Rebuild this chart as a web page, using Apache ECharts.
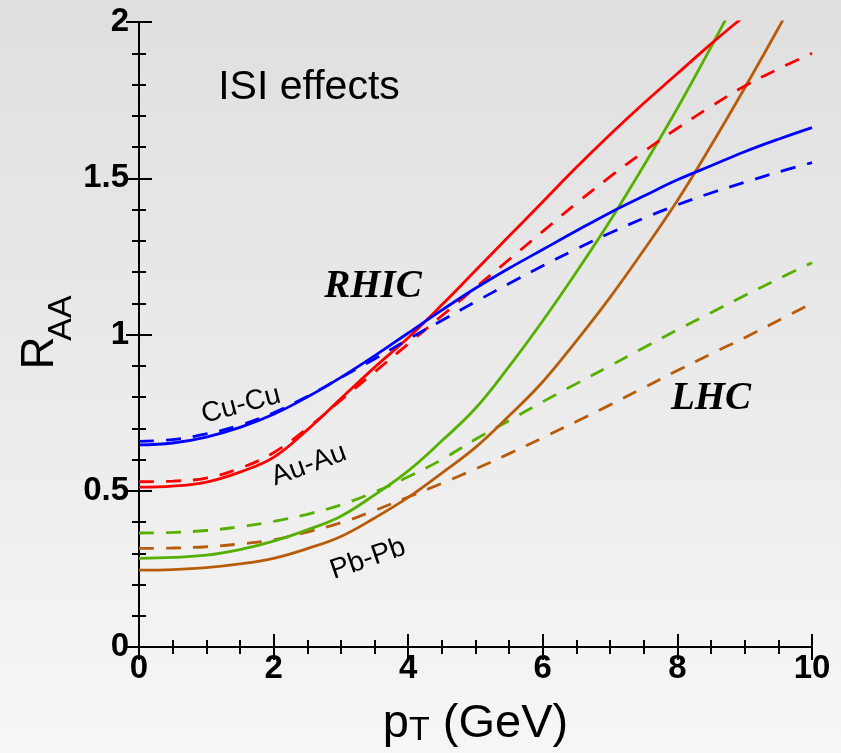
<!DOCTYPE html>
<html>
<head>
<meta charset="utf-8">
<title>ISI effects – R_AA vs pT</title>
<script src="https://cdn.jsdelivr.net/npm/echarts@6/dist/echarts.min.js"></script>
<style>
  html, body { margin: 0; padding: 0; }
  #chart { width: 841px; height: 753px; }
</style>
</head>
<body>
<div id="chart"></div>
<script>
// Transverse momentum grid (GeV)
const pT = [0, 0.5, 1, 1.5, 2, 2.5, 3, 3.5, 4, 4.5, 5, 5.5, 6, 6.5, 7, 7.5, 8, 8.5, 9, 9.5, 10];

// RHIC, Cu-Cu
const cuCuSolid  = [0.647, 0.653, 0.672, 0.703, 0.745, 0.800, 0.863, 0.932, 1.005, 1.078, 1.148,
                    1.212, 1.272, 1.332, 1.390, 1.443, 1.495, 1.540, 1.585, 1.625, 1.662];
const cuCuDashed = [0.658, 0.664, 0.682, 0.710, 0.750, 0.802, 0.862, 0.922, 0.985, 1.045, 1.105,
                    1.163, 1.220, 1.274, 1.325, 1.372, 1.415, 1.453, 1.487, 1.520, 1.550];
// RHIC, Au-Au
const auAuSolid  = [0.512, 0.515, 0.528, 0.560, 0.607, 0.695, 0.795, 0.895, 0.990, 1.095, 1.205,
                    1.315, 1.425, 1.535, 1.640, 1.740, 1.835, 1.930, 2.020, 2.110, 2.200];
const auAuDashed = [0.529, 0.531, 0.541, 0.572, 0.622, 0.700, 0.790, 0.880, 0.970, 1.060, 1.150,
                    1.240, 1.330, 1.420, 1.505, 1.585, 1.660, 1.730, 1.795, 1.850, 1.900];
// LHC, Pb-Pb (green and brown pairs)
const pbPbSolidG  = [0.284, 0.287, 0.294, 0.312, 0.339, 0.375, 0.419, 0.487, 0.564, 0.660, 0.764,
                     0.898, 1.044, 1.200, 1.364, 1.540, 1.724, 1.920, 2.124, 2.330, 2.540];
const pbPbDashedG = [0.365, 0.367, 0.373, 0.385, 0.402, 0.425, 0.455, 0.496, 0.545, 0.600, 0.665,
                     0.725, 0.785, 0.843, 0.900, 0.958, 1.015, 1.070, 1.125, 1.178, 1.230];
const pbPbSolidB  = [0.246, 0.248, 0.254, 0.266, 0.284, 0.315, 0.354, 0.413, 0.479, 0.557, 0.639,
                     0.740, 0.849, 0.980, 1.119, 1.270, 1.429, 1.605, 1.789, 1.980, 2.179];
const pbPbDashedB = [0.316, 0.317, 0.321, 0.330, 0.343, 0.368, 0.398, 0.437, 0.480, 0.524, 0.570,
                     0.619, 0.670, 0.722, 0.775, 0.830, 0.885, 0.938, 0.990, 1.045, 1.100];

const xTicks = [0, 2, 4, 6, 8, 10];
const yTicks = [0, 0.5, 1, 1.5, 2];

const BLUE = '#0000ff', RED = '#ff0000', GREEN = '#55b000', BROWN = '#b85c0a';
const DASH = [15, 12];

function pairs(ys) { return pT.map((x, i) => [x, ys[i]]); }

function curve(name, ys, color, dashed) {
  return {
    name: name,
    type: 'line',
    data: pairs(ys),
    smooth: 0.4,
    showSymbol: false,
    symbol: 'none',
    clip: true,
    lineStyle: { color: color, width: 2.8, type: dashed ? DASH : 'solid' },
    silent: true
  };
}

const SANS = 'Liberation Sans, Arial, sans-serif';
const tickFont = { fontFamily: SANS, fontWeight: 'bold', fontSize: 33, color: '#000' };
const axisLine = { show: true, lineStyle: { color: '#000', width: 2 } };
const majorTick = { show: true, inside: true, length: 13, lineStyle: { color: '#000', width: 2 } };

function label(text, x, y, font, deg) {
  return {
    type: 'text', x: x, y: y, rotation: (deg || 0) * Math.PI / 180, silent: true,
    style: { text: text, font: font, fill: '#000', textAlign: 'center', textVerticalAlign: 'middle' }
  };
}

const chart = echarts.init(document.getElementById('chart'), null, { renderer: 'canvas' });

chart.setOption({
  animation: false,
  backgroundColor: {
    type: 'linear', x: 0, y: 0, x2: 0, y2: 1,
    colorStops: [{ offset: 0, color: '#dfdfdf' }, { offset: 1, color: '#f6f6f6' }]
  },
  grid: { left: 139, right: 29, top: 22, bottom: 103, containLabel: false },
  xAxis: [
    {
      type: 'value', min: 0, max: 10, interval: 2, position: 'bottom',
      axisLine: axisLine,
      axisTick: majorTick,
      minorTick: { show: true, splitNumber: 4, length: 7, lineStyle: { color: '#000', width: 2 } },
      splitLine: { show: false },
      axisLabel: Object.assign({ margin: 5, formatter: v => xTicks.includes(v) ? String(v) : '' }, tickFont),
      name: '{p|p}{t|T}{g| (GeV)}',
      nameLocation: 'middle',
      nameGap: 45,
      nameTextStyle: {
        rich: {
          p: { fontFamily: SANS, fontSize: 47, lineHeight: 47, verticalAlign: 'top', color: '#000' },
          t: { fontFamily: SANS, fontSize: 34, lineHeight: 34, verticalAlign: 'bottom', padding: [24, 0, 0, 0], color: '#000' },
          g: { fontFamily: SANS, fontSize: 47, lineHeight: 47, verticalAlign: 'top', color: '#000' }
        }
      }
    },
    {
      type: 'value', min: 0, max: 10, interval: 2, position: 'top',
      axisLine: axisLine,
      axisTick: majorTick,
      minorTick: { show: true, splitNumber: 4, length: 7, lineStyle: { color: '#000', width: 2 } },
      splitLine: { show: false },
      axisLabel: { show: false }
    }
  ],
  yAxis: [
    {
      type: 'value', min: 0, max: 2, interval: 0.5, position: 'left',
      axisLine: axisLine,
      axisTick: majorTick,
      minorTick: { show: true, splitNumber: 5, length: 7, lineStyle: { color: '#000', width: 2 } },
      splitLine: { show: false },
      axisLabel: Object.assign({ margin: 10, formatter: v => yTicks.includes(v) ? String(v) : '' }, tickFont)
    },
    {
      type: 'value', min: 0, max: 2, interval: 0.5, position: 'right',
      axisLine: axisLine,
      axisTick: majorTick,
      minorTick: { show: true, splitNumber: 5, length: 7, lineStyle: { color: '#000', width: 2 } },
      splitLine: { show: false },
      axisLabel: { show: false }
    }
  ],
  series: [
    curve('Pb-Pb brown dashed', pbPbDashedB, BROWN, true),
    curve('Pb-Pb green dashed', pbPbDashedG, GREEN, true),
    curve('Pb-Pb brown', pbPbSolidB, BROWN, false),
    curve('Pb-Pb green', pbPbSolidG, GREEN, false),
    curve('Au-Au dashed', auAuDashed, RED, true),
    curve('Au-Au', auAuSolid, RED, false),
    curve('Cu-Cu dashed', cuCuDashed, BLUE, true),
    curve('Cu-Cu', cuCuSolid, BLUE, false)
  ],
  graphic: [
    // y-axis title: R with subscript AA, reading bottom to top
    label('R', 40, 353, '46px "Liberation Sans", Arial, sans-serif', 90),
    label('AA', 62, 318, '34px "Liberation Sans", Arial, sans-serif', 90),
    label('ISI effects', 309, 88, '41px "Liberation Sans", Arial, sans-serif'),
    label('RHIC', 373, 287, 'italic bold 39px "Liberation Serif", "Times New Roman", serif'),
    label('LHC', 711, 399, 'italic bold 39px "Liberation Serif", "Times New Roman", serif'),
    label('Cu-Cu', 241, 405, '28px "Liberation Sans", Arial, sans-serif', 15),
    label('Au-Au', 309, 465, '28px "Liberation Sans", Arial, sans-serif', 20),
    label('Pb-Pb', 368, 559, '28px "Liberation Sans", Arial, sans-serif', 19)
  ]
});
</script>
</body>
</html>
